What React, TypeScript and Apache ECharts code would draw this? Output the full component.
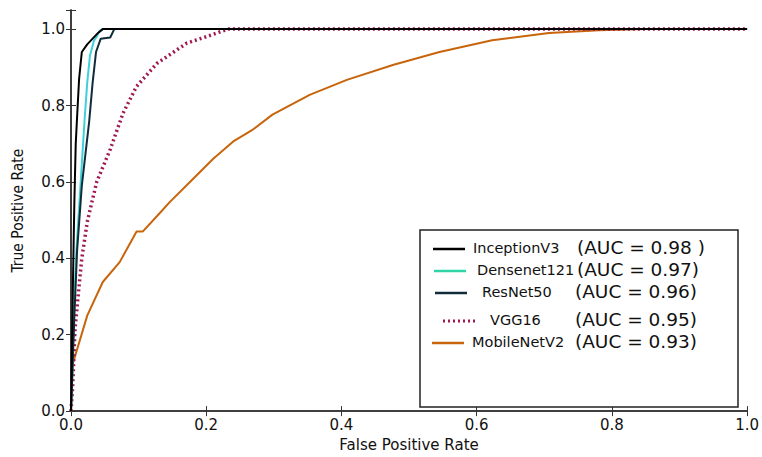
import React, { useEffect, useRef } from "react";
import * as echarts from "echarts";

const seriesNames = ["InceptionV3", "Densenet121", "ResNet50", "VGG16", "MobileNetV2"];
const aucLabels = ["(AUC = 0.98 )", "(AUC = 0.97)", "(AUC = 0.96)", "(AUC = 0.95)", "(AUC = 0.93)"];
const curveColors = ["#000000", "#3fcfd8", "#0f2c38", "#a0184f", "#c8650c"];
const legendColors = ["#000000", "#2fd4a8", "#0f2c38", "#a0184f", "#c8650c"];

const inceptionV3: number[][] = [
  [0, 0], [0.001, 0.12], [0.003, 0.35], [0.005, 0.55], [0.007, 0.7], [0.009, 0.77],
  [0.012, 0.87], [0.016, 0.94], [0.024, 0.96], [0.032, 0.975], [0.04, 0.99], [0.047, 1.0], [1, 1],
];
const densenet121: number[][] = [
  [0, 0], [0.002, 0.1], [0.004, 0.25], [0.008, 0.42], [0.014, 0.59], [0.02, 0.76],
  [0.024, 0.86], [0.028, 0.93], [0.034, 0.97], [0.038, 0.98], [0.042, 0.995], [0.046, 1.0], [1, 1],
];
const resNet50: number[][] = [
  [0, 0], [0.002, 0.1], [0.005, 0.25], [0.009, 0.42], [0.016, 0.59], [0.027, 0.76],
  [0.032, 0.86], [0.037, 0.94], [0.044, 0.975], [0.058, 0.978], [0.064, 1.0], [1, 1],
];
const vgg16: number[][] = [
  [0, 0], [0.002, 0.05], [0.003, 0.086], [0.006, 0.216], [0.011, 0.31], [0.016, 0.4],
  [0.024, 0.495], [0.038, 0.6], [0.058, 0.685], [0.077, 0.78], [0.097, 0.85], [0.127, 0.91],
  [0.171, 0.963], [0.2, 0.98], [0.232, 1.0], [1, 1],
];
const mobileNetV2: number[][] = [
  [0, 0], [0.002, 0.12], [0.024, 0.25], [0.047, 0.338], [0.072, 0.39], [0.097, 0.47],
  [0.106, 0.47], [0.127, 0.51], [0.146, 0.547], [0.18, 0.607], [0.21, 0.66], [0.24, 0.706],
  [0.269, 0.737], [0.298, 0.776], [0.353, 0.828], [0.408, 0.867], [0.476, 0.906],
  [0.545, 0.94], [0.623, 0.971], [0.707, 0.99], [0.781, 0.997], [0.85, 1.0], [1, 1],
];

const curves = [inceptionV3, densenet121, resNet50, vgg16, mobileNetV2];
const drawOrder = [4, 3, 1, 2, 0];

export default function App() {
  const ref = useRef<HTMLDivElement>(null);
  useEffect(() => {
    if (!ref.current) return;
    const chart = echarts.init(ref.current, undefined, { renderer: "svg" });
    const fmt = (v: number) => {
      const r = Math.round(v * 5);
      return Math.abs(v * 5 - r) < 1e-6 ? v.toFixed(1) : "";
    };
    const axisLine = { show: true, lineStyle: { color: "#333", width: 1.5 } };
    const tick = { show: true, inside: true, length: 5, lineStyle: { color: "#333", width: 1 } };
    const labelStyle = { fontFamily: "DejaVu Sans", fontSize: 15, color: "#111" };

    const series: any[] = drawOrder.map((i) => ({
      type: "line",
      name: seriesNames[i],
      data: curves[i],
      showSymbol: false,
      symbol: "none",
      xAxisIndex: 0,
      yAxisIndex: 0,
      lineStyle: i === 3
        ? { color: curveColors[i], width: 3.5, type: [2, 3] }
        : { color: curveColors[i], width: 2 },
      z: 2,
    }));

    const lx = 420, ly = 230, lw = 318, lh = 177;
    const rowY = [248, 270, 292, 320, 342];
    const lineX = [433, 434, 435, 443, 432];
    const nameX = [473, 477, 482, 490, 472];
    const aucX = [577, 577, 575, 575, 575];
    const graphic: any[] = [
      { type: "rect", shape: { x: lx, y: ly, width: lw, height: lh }, style: { fill: "#fff", stroke: "#222", lineWidth: 1.5 }, z: 10 },
    ];
    seriesNames.forEach((n, i) => {
      graphic.push({
        type: "line",
        shape: { x1: lineX[i], y1: rowY[i] + 1, x2: lineX[i] + 32, y2: rowY[i] + 1 },
        style: i === 3
          ? { stroke: legendColors[i], lineWidth: 3, lineDash: [2, 3] }
          : { stroke: legendColors[i], lineWidth: 2.5 },
        z: 11,
      });
      graphic.push({
        type: "text", x: nameX[i], y: rowY[i], z: 11,
        style: { text: n, fontFamily: "DejaVu Sans", fontSize: 14.5, fill: "#111", verticalAlign: "middle" },
      });
      graphic.push({
        type: "text", x: aucX[i], y: rowY[i] - 1, z: 11,
        style: { text: aucLabels[i], fontFamily: "DejaVu Sans", fontSize: 18.5, fill: "#111", verticalAlign: "middle" },
      });
    });

    chart.setOption({
      animation: false,
      backgroundColor: "#fff",
      grid: { left: 71, top: 10, width: 677, height: 404, containLabel: false },
      xAxis: [
        {
          type: "value", min: 0, max: 1, interval: 0.2, position: "bottom",
          axisLine, axisTick: tick, splitLine: { show: false },
          axisLabel: { ...labelStyle, margin: 6, formatter: fmt },
          name: "False Positive Rate", nameLocation: "middle", nameGap: 19,
          nameTextStyle: { fontFamily: "DejaVu Sans", fontSize: 15, color: "#111" },
        },
        {
          type: "value", min: 0, max: 1, interval: 0.2, position: "top",
          axisLine, axisTick: tick, splitLine: { show: false }, axisLabel: { show: false },
        },
      ],
      yAxis: [
        {
          type: "value", min: 0, max: 1.05, interval: 0.2, position: "left",
          axisLine, axisTick: tick, splitLine: { show: false },
          axisLabel: { ...labelStyle, margin: 6, formatter: fmt },
          name: "True Positive Rate", nameLocation: "middle", nameGap: 45,
          nameTextStyle: { fontFamily: "DejaVu Sans Condensed, Liberation Sans Narrow, DejaVu Sans", fontSize: 15.5, color: "#111" },
        },
        {
          type: "value", min: 0, max: 1.05, interval: 0.2, position: "right",
          axisLine, axisTick: tick, splitLine: { show: false }, axisLabel: { show: false },
        },
      ],
      series,
      graphic,
    });
    return () => chart.dispose();
  }, []);
  return <div ref={ref} style={{ position: "absolute", left: 0, top: 0, width: 762, height: 457 }} />;
}
